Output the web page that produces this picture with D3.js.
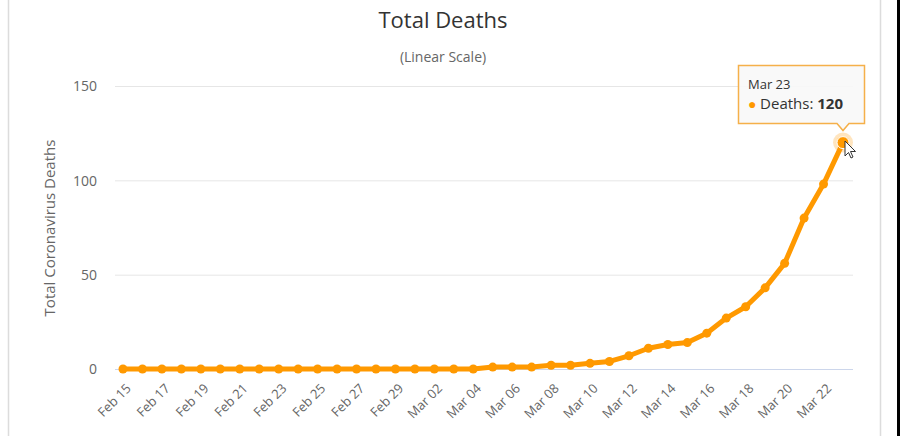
<!DOCTYPE html>
<html><head><meta charset="utf-8">
<script src="https://cdn.jsdelivr.net/npm/d3@7"></script>
<style>
html,body{margin:0;padding:0;background:#fff;}
svg{display:block;font-family:"Open Sans",sans-serif;}
</style></head>
<body><svg id="c" width="900" height="436"></svg>
<script>
const dates = ["Feb 15","Feb 16","Feb 17","Feb 18","Feb 19","Feb 20","Feb 21","Feb 22","Feb 23","Feb 24","Feb 25","Feb 26","Feb 27","Feb 28","Feb 29","Mar 01","Mar 02","Mar 03","Mar 04","Mar 05","Mar 06","Mar 07","Mar 08","Mar 09","Mar 10","Mar 11","Mar 12","Mar 13","Mar 14","Mar 15","Mar 16","Mar 17","Mar 18","Mar 19","Mar 20","Mar 21","Mar 22","Mar 23"];
const deaths = [0,0,0,0,0,0,0,0,0,0,0,0,0,0,0,0,0,0,0,1,1,1,2,2,3,4,7,11,13,14,19,27,33,43,56,80,98,120];
const yTicks = [0,50,100,150];
const title = "Total Deaths";
const subtitle = "(Linear Scale)";
const yTitle = "Total Coronavirus Deaths";
const seriesName = "Deaths";

const svg = d3.select("#c");
const color = "#ff9900";

// frame
svg.append("line").attr("x1",8.5).attr("x2",8.5).attr("y1",0).attr("y2",436).attr("stroke","#dcdcdc").attr("stroke-width",1.5);
svg.append("line").attr("x1",880.5).attr("x2",880.5).attr("y1",0).attr("y2",436).attr("stroke","#dcdcdc").attr("stroke-width",1.5);
svg.append("rect").attr("x",897).attr("y",0).attr("width",3).attr("height",436).attr("fill","#000");

const x = d3.scalePoint().domain(dates).range([123,843]);
const y = d3.scaleLinear().domain([0,150]).range([369,86]);
const left = 115, right = 853;

// gridlines
svg.append("g").selectAll("line").data(yTicks.filter(d=>d>0)).join("line")
  .attr("x1",left).attr("x2",right).attr("y1",d=>y(d)+0.5).attr("y2",d=>y(d)+0.5)
  .attr("stroke","#e6e6e6").attr("stroke-width",1);
svg.append("line").attr("x1",left).attr("x2",right).attr("y1",y(0)+0.5).attr("y2",y(0)+0.5)
  .attr("stroke","#ccd6eb").attr("stroke-width",1);

// y axis labels
const yAxis = d3.axisLeft(y).tickValues(yTicks).tickSize(0).tickPadding(0);
const gy = svg.append("g").attr("transform","translate(97,0)").call(yAxis);
gy.select(".domain").remove();
gy.selectAll("text").attr("fill","#666").attr("font-size",14).attr("font-family","Open Sans, sans-serif").attr("dy","0.35em");

// x axis labels
const xAxis = d3.axisBottom(x).tickValues(dates.filter((d,i)=>i%2===0)).tickSize(0).tickPadding(0);
const gx = svg.append("g").attr("transform","translate(0,380)").call(xAxis);
gx.select(".domain").remove();
gx.selectAll("text").attr("fill","#666").attr("font-size",13).attr("font-family","Open Sans, sans-serif")
  .attr("text-anchor","end").attr("dy","0.35em").attr("transform","translate(5,6) rotate(-45)");

// titles
svg.append("text").attr("x",443).attr("y",28).attr("text-anchor","middle").attr("fill","#333").attr("font-size",22).text(title);
svg.append("text").attr("x",443).attr("y",62).attr("text-anchor","middle").attr("fill","#666").attr("font-size",14).text(subtitle);
svg.append("text").attr("transform","translate(55,228) rotate(-90)").attr("text-anchor","middle").attr("fill","#666").attr("font-size",15).text(yTitle);

// line
const line = d3.line().x((d,i)=>x(dates[i])).y(d=>y(d));
svg.append("path").datum(deaths).attr("d",line).attr("fill","none").attr("stroke",color).attr("stroke-width",5).attr("stroke-linejoin","round");
svg.append("g").selectAll("circle").data(deaths).join("circle")
  .attr("cx",(d,i)=>x(dates[i])).attr("cy",d=>y(d)).attr("r",4.5).attr("fill",color);

// hover halo
const li = dates.length-1;
const px = x(dates[li]), py = y(deaths[li]);
svg.append("circle").attr("cx",px).attr("cy",py).attr("r",10).attr("fill",color).attr("opacity",0.25);
svg.append("circle").attr("cx",px).attr("cy",py).attr("r",6).attr("fill",color).attr("stroke","#fff").attr("stroke-width",1);

// tooltip
const bx=738.5, by=65.5, bw=126, bh=58, tipX=px, tipY=py-12;
const tp = `M${bx},${by} H${bx+bw} V${by+bh} H${tipX+6} L${tipX},${tipY} L${tipX-6},${by+bh} H${bx} Z`;
svg.append("path").attr("d",tp).attr("fill","rgba(249,249,249,0.92)").attr("stroke","#f5b04a").attr("stroke-width",1.5);
svg.append("text").attr("x",748).attr("y",89).attr("fill","#333").attr("font-size",13).text(dates[li]);
const t2 = svg.append("text").attr("x",748).attr("y",109).attr("font-size",15).attr("fill","#333");
t2.append("tspan").attr("fill",color).attr("font-size",14).text("● ");
t2.append("tspan").text(seriesName+": ");
t2.append("tspan").attr("font-weight","bold").text(deaths[li]);

// mouse cursor
const cx0=845, cy0=141;
svg.append("path").attr("d",`M${cx0},${cy0} l0,15 l3.5,-3.5 l2.5,5.5 l2,-1 l-2.5,-5.5 l5,0 Z`)
  .attr("fill","#fff").attr("stroke","#333").attr("stroke-width",1);
</script></body></html>
